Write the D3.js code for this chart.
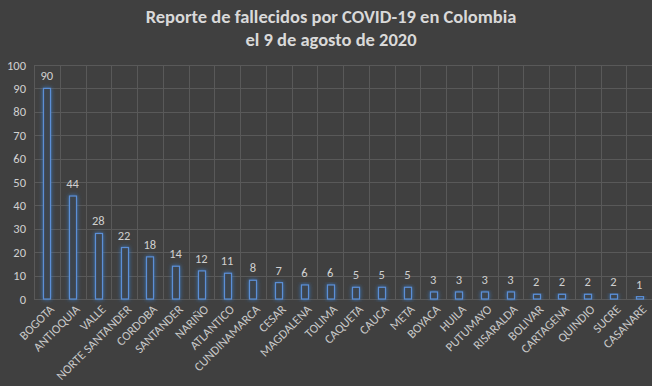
<!DOCTYPE html>
<html><head><meta charset="utf-8">
<script src="https://cdn.jsdelivr.net/npm/d3@7"></script>
<style>html,body{margin:0;padding:0;background:#404040;}svg{display:block;}</style>
</head><body>
<svg id="c" width="652" height="386"></svg>
<script>
const categories = ["BOGOTA","ANTIOQUIA","VALLE","NORTE SANTANDER","CORDOBA","SANTANDER","NARIÑO","ATLANTICO","CUNDINAMARCA","CESAR","MAGDALENA","TOLIMA","CAQUETA","CAUCA","META","BOYACA","HUILA","PUTUMAYO","RISARALDA","BOLIVAR","CARTAGENA","QUINDIO","SUCRE","CASANARE"];
const values = [90,44,28,22,18,14,12,11,8,7,6,6,5,5,5,3,3,3,3,2,2,2,2,1];
const yTicks = [0,10,20,30,40,50,60,70,80,90,100];
const titleLines = ["Reporte de fallecidos por COVID-19 en Colombia","el 9 de agosto de 2020"];

const svg = d3.select("#c");
const W = 652, H = 386;
const m = {left:34, right:0, top:65, bottom:87};
svg.append("rect").attr("width",W).attr("height",H).attr("fill","#404040");

const defs = svg.append("defs");
const f = defs.append("filter").attr("id","glow").attr("x","-100%").attr("y","-20%").attr("width","300%").attr("height","140%");
f.append("feGaussianBlur").attr("in","SourceAlpha").attr("stdDeviation",2.2).attr("result","b");
f.append("feFlood").attr("flood-color","#3a7fd0").attr("flood-opacity",0.85);
f.append("feComposite").attr("in2","b").attr("operator","in").attr("result","g");
const fm = f.append("feMerge"); fm.append("feMergeNode").attr("in","g"); fm.append("feMergeNode").attr("in","SourceGraphic");

const x = d3.scaleBand().domain(categories).range([m.left, W - m.right]);
const y = d3.scaleLinear().domain([0,100]).range([H - m.bottom, m.top]);

const font = "Carlito, 'Open Sans', 'Noto Sans', sans-serif";

svg.append("g").selectAll("line").data(yTicks).join("line")
  .attr("x1",m.left).attr("x2",W-m.right)
  .attr("y1",d=>Math.round(y(d))+0.5).attr("y2",d=>Math.round(y(d))+0.5)
  .attr("stroke","#595959").attr("stroke-width",1);
const bounds = categories.map(c=>x(c)).concat([x(categories[categories.length-1])+x.bandwidth()]);
svg.append("g").selectAll("line").data(bounds).join("line")
  .attr("x1",d=>Math.round(d)+0.5).attr("x2",d=>Math.round(d)+0.5)
  .attr("y1",y(100)).attr("y2",y(0))
  .attr("stroke","#595959").attr("stroke-width",1);

const yAxis = d3.axisLeft(y).tickValues(yTicks).tickSize(0).tickPadding(8);
const ga = svg.append("g").attr("transform",`translate(${m.left},0)`).call(yAxis);
ga.select(".domain").remove();
ga.selectAll("text").attr("fill","#d0d0d0").style("font-family",font).style("font-size","12.5px");

const bw = 7;
svg.append("g").selectAll("rect").data(values).join("rect")
  .attr("x",(d,i)=>Math.round(x(categories[i])+x.bandwidth()/2-bw/2)+0.5)
  .attr("y",d=>y(d))
  .attr("width",bw)
  .attr("height",d=>y(0)-y(d))
  .attr("fill","#3d444e")
  .attr("stroke","#5b8fd6").attr("stroke-width",1.2)
  .attr("filter","url(#glow)");

svg.append("g").selectAll("text").data(values).join("text")
  .attr("x",(d,i)=>x(categories[i])+x.bandwidth()/2)
  .attr("y",d=>y(d)-8)
  .attr("text-anchor","middle")
  .attr("fill","#d0d0d0").style("font-family",font).style("font-size","12.5px")
  .text(d=>d);

svg.append("g").selectAll("text").data(categories).join("text")
  .attr("transform",(d)=>`translate(${x(d)+x.bandwidth()/2+5},${y(0)+8}) rotate(-45)`)
  .attr("text-anchor","end").attr("dy","0.35em")
  .attr("fill","#c8c8c8").style("font-family",font).style("font-size","12.5px")
  .text(d=>d);

svg.append("g").selectAll("text").data(titleLines).join("text")
  .attr("x",331).attr("y",(d,i)=>23+i*23)
  .attr("text-anchor","middle")
  .attr("fill","#d9d9d9").style("font-family",font).style("font-size","18.5px").style("font-weight","bold")
  .text(d=>d);
</script>
</body></html>
